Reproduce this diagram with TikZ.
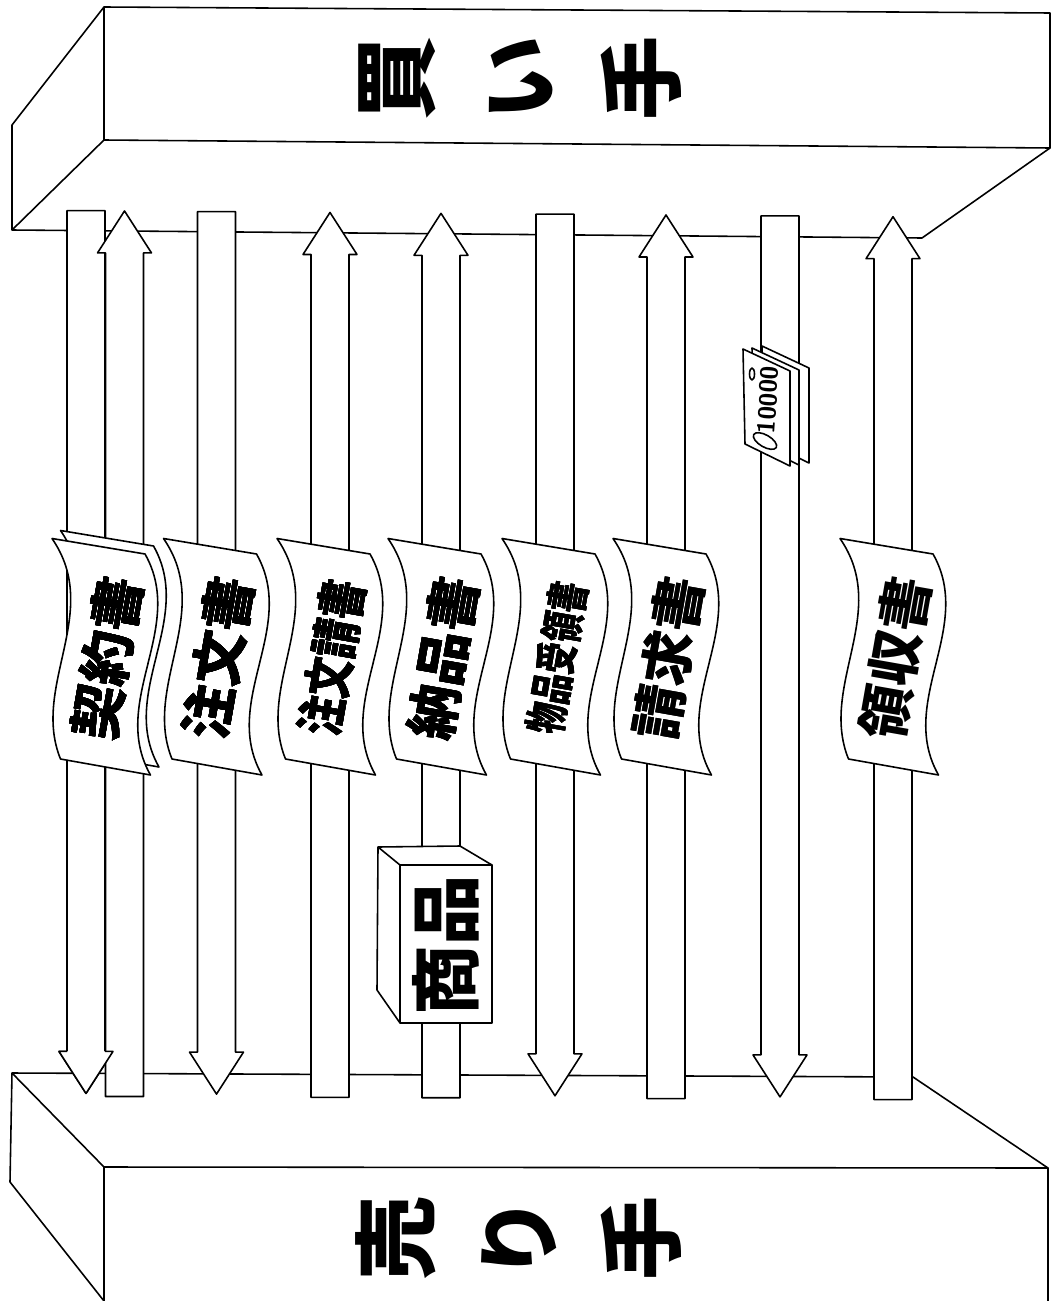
\documentclass[tikz,border=0pt]{standalone}
\usepackage{fontspec}
\newfontfamily\jpfont{Noto Sans CJK JP}
\newfontfamily\jpfontnarrow{Noto Sans CJK JP}[FakeStretch=0.77]
\newfontfamily\jpfontnarrower{Noto Sans CJK JP}[FakeStretch=0.7]

% one wavy sheet of paper around (x,y)
\newcommand{\docpaper}[2]{%
  \filldraw[fill=white, shift={(#1,#2)}] (-53,-117.5) -- (40,-102)
    .. controls (81.8,-28.3) and (3.7,45.3) .. (45.5,119) -- (-44.5,103)
    .. controls (-74.3,29.5) and (-2.2,-44) .. cycle;}

\tikzset{
  boxtext/.style={rotate=90, align=center, inner sep=0pt,
    font=\jpfont\bfseries\fontsize{48}{70}\selectfont},
  doctext/.style={rotate=80, inner sep=0pt, font=\jpfont\bfseries\fontsize{31}{31}\selectfont},
  doctextnarrow/.style={doctext, font=\jpfontnarrow\bfseries\fontsize{29}{29}\selectfont},
  doctextnarrower/.style={doctext, font=\jpfontnarrower\bfseries\fontsize{25}{25}\selectfont},
}

\begin{document}
\begin{tikzpicture}[x=0.02cm, y=-0.02cm, line width=0.9pt, line join=round]
    \useasboundingbox (0,0) rectangle (1053,1301);

    % Buyer block
    \filldraw[fill=white] (104,7) -- (1050,13) -- (1050,148) -- (922,238) -- (12,230) -- (12,125) -- cycle;
    \draw (104,7) -- (104,140) -- (1050,148);
    \draw (12,230) -- (104,140);
    \node[boxtext] (buyer) at (520,78) {買\\い\\手};

    % Seller block
    \fill[white] (104,1301) -- (10,1182) -- (12,1073) -- (913,1077) -- (1048,1168) -- (1048,1301) -- cycle;
    \draw (104,1301) -- (10,1182) -- (12,1073) -- (913,1077) -- (1048,1168) -- (1048,1301);
    \draw (12,1073) -- (104,1167) -- (1048,1168);
    \draw (104,1167) -- (104,1301);
    \node[boxtext] (seller) at (519,1238) {売\\り\\手};

    % Buyer -> seller
    \foreach \cx in {86,216.5,555,780} {
        \pgfmathsetmacro{\yt}{210+0.0075*\cx}
        \pgfmathsetmacro{\yb}{1093+0.005*\cx}
        \filldraw[fill=white] (\cx-19,\yt) -- (\cx+19,\yt) -- (\cx+19,\yb-42) -- (\cx+27,\yb-42)
            -- (\cx,\yb) -- (\cx-27,\yb-42) -- (\cx-19,\yb-42) -- cycle;
    }
    % Seller -> buyer
    \foreach \cx in {124.5,330,441,666,893} {
        \pgfmathsetmacro{\yt}{210+0.0075*\cx}
        \pgfmathsetmacro{\yb}{1096+0.004*\cx}
        \filldraw[fill=white] (\cx,\yt) -- (\cx+27,\yt+42) -- (\cx+19,\yt+42) -- (\cx+19,\yb)
            -- (\cx-19,\yb) -- (\cx-19,\yt+42) -- (\cx-27,\yt+42) -- cycle;
    }
    % first head again, on top of its neighbour
    \fill[white] (59,1051.4) -- (86,1093.4) -- (113,1051.4) -- cycle;
    \draw (67,1051.4) -- (59,1051.4) -- (86,1093.4) -- (113,1051.4) -- (105,1051.4);

    % Documents
    \docpaper{113.5}{648}
    \foreach \cx in {105,216.5,330,441,555,666,893}
        \docpaper{\cx}{656}
    \foreach \cx/\name/\txt/\kind in {105/keiyaku/契約書/doctext, 216.5/chumon/注文書/doctext,
        330/ukesho/注文請書/doctextnarrow, 441/nohin/納品書/doctext,
        555/juryo/物品受領書/doctextnarrower, 666/seikyu/請求書/doctext, 893/ryoshu/領収書/doctext}
        \node[\kind] (\name) at (\cx+2,658) {\txt};

    % Goods
    \filldraw[fill=white] (378,847) -- (460,846) -- (492,865) -- (492,1023) -- (400,1023) -- (377,990) -- cycle;
    \draw (378,847) -- (400,865) -- (492,865);
    \draw (400,865) -- (400,1023);
    \node[rotate=90, inner sep=0pt, font=\jpfont\bfseries\fontsize{40}{40}\selectfont] (shohin) at (446,945) {商品};

    % Bills
    \foreach \dx/\dy in {19/-3, 9/-1, 0/0}
        \filldraw[fill=white, shift={(743+\dx,349+\dy)}] (0,0) -- (47,22) -- (47,117) -- (2,95) -- cycle;
    \draw (752,374) ellipse [x radius=2.5, y radius=6];
    \draw[rotate around={-30:(765,441)}] (765,441) ellipse [x radius=13, y radius=6];
    \node[rotate=86, inner sep=0pt, font=\sffamily\bfseries\fontsize{14}{14}\selectfont] (kingaku) at (768,400) {10000};
\end{tikzpicture}
\end{document}
